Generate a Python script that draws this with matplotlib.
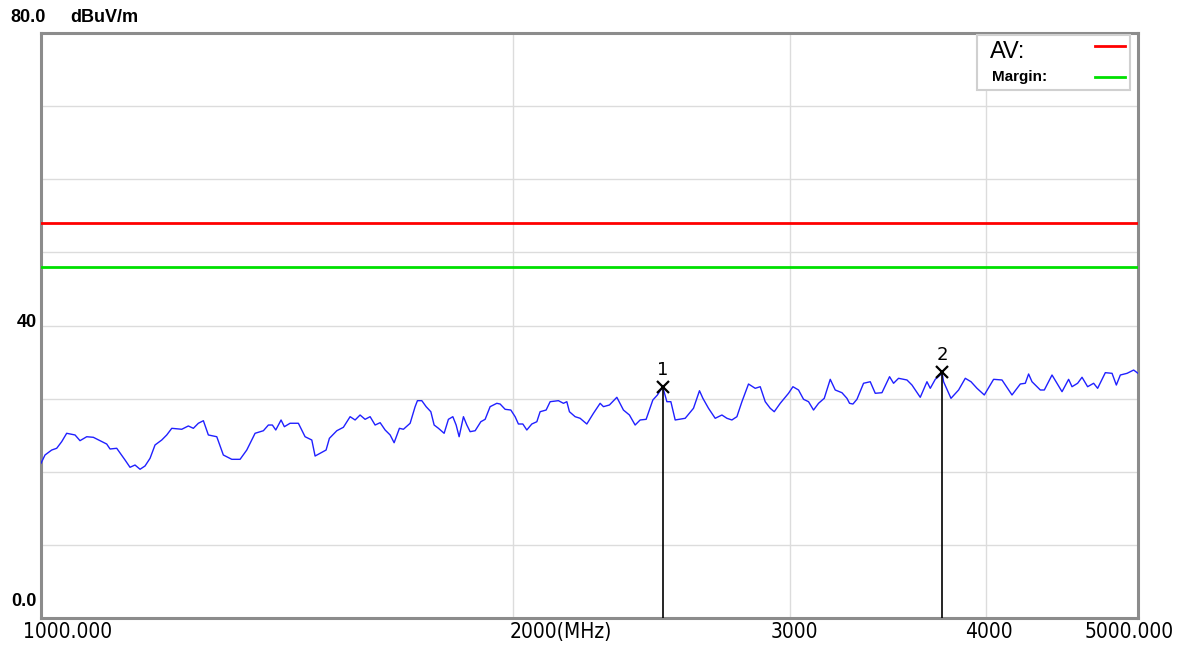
import matplotlib
matplotlib.use("Agg")
import matplotlib.pyplot as plt
from matplotlib.lines import Line2D
from matplotlib.patches import Rectangle
from matplotlib.transforms import blended_transform_factory

# measured trace (MHz, dBuV/m)
freq = [1000.0, 1005.9, 1015.8, 1023.3, 1030.8, 1038.4, 1051.2, 1058.9, 1069.4, 1079.8,
        1090.4, 1101.2, 1106.6, 1117.5, 1131.2, 1139.5, 1147.9, 1156.4, 1164.9, 1173.5,
        1182.1, 1193.8, 1202.6, 1211.5, 1229.4, 1241.3, 1250.5, 1259.7, 1269.0, 1278.3,
        1294.2, 1306.7, 1323.0, 1339.2, 1352.4, 1369.0, 1385.8, 1396.0, 1404.2, 1411.2,
        1422.2, 1429.1, 1441.1, 1458.8, 1473.2, 1487.8, 1495.0, 1506.0, 1519.3, 1526.7,
        1543.4, 1558.4, 1573.8, 1585.4, 1597.0, 1608.8, 1620.7, 1632.6, 1644.7, 1656.8,
        1669.0, 1678.8, 1691.9, 1701.9, 1718.7, 1731.3, 1737.2, 1748.4, 1759.5, 1771.7,
        1780.3, 1791.6, 1806.6, 1818.0, 1829.8, 1838.7, 1846.8, 1858.5, 1867.8, 1876.8,
        1890.7, 1906.5, 1918.6, 1932.7, 1951.8, 1961.3, 1975.7, 1992.3, 2004.9, 2014.6,
        2027.7, 2039.6, 2054.6, 2069.8, 2079.8, 2098.2, 2110.6, 2136.4, 2152.2, 2162.9,
        2171.2, 2189.4, 2205.5, 2227.3, 2249.0, 2271.2, 2282.3, 2302.4, 2327.6, 2350.2,
        2371.0, 2390.9, 2408.5, 2429.8, 2453.8, 2470.4, 2480.2, 2490.2, 2504.9, 2519.6,
        2535.6, 2573.1, 2604.6, 2627.6, 2640.8, 2662.6, 2688.9, 2715.5, 2735.5, 2755.6,
        2775.9, 2796.4, 2823.6, 2851.5, 2872.5, 2893.7, 2915.0, 2932.2, 2958.1, 2994.3,
        3013.7, 3038.6, 3061.0, 3083.5, 3106.2, 3129.1, 3155.4, 3183.3, 3206.7, 3238.4,
        3262.3, 3274.7, 3291.1, 3310.5, 3342.7, 3375.7, 3400.6, 3434.2, 3472.7, 3493.2,
        3518.9, 3562.5, 3588.8, 3632.7, 3668.6, 3686.5, 3713.6, 3741.0, 3750.3, 3759.2,
        3800.2, 3842.9, 3880.8, 3913.5, 3948.1, 3990.6, 4045.4, 4095.6, 4156.1, 4207.1,
        4238.0, 4258.6, 4279.9, 4332.4, 4357.9, 4407.4, 4472.6, 4516.1, 4538.7, 4576.2,
        4605.8, 4643.8, 4684.9, 4712.5, 4766.0, 4813.2, 4843.6, 4872.1, 4920.3, 4968.2,
        5000.0]
level = [21.16, 22.29, 22.97, 23.21, 24.11, 25.26, 25.03, 24.25, 24.79, 24.71,
         24.25, 23.79, 23.11, 23.21, 21.61, 20.61, 20.92, 20.34, 20.79, 21.84,
         23.66, 24.34, 25.03, 25.94, 25.81, 26.26, 25.94, 26.63, 26.98, 25.03,
         24.79, 22.29, 21.70, 21.70, 22.97, 25.26, 25.61, 26.39, 26.39, 25.71,
         27.08, 26.16, 26.63, 26.63, 24.79, 24.34, 22.15, 22.52, 22.97, 24.57,
         25.61, 26.08, 27.53, 27.08, 27.76, 27.17, 27.53, 26.39, 26.71, 25.71,
         25.03, 23.97, 25.94, 25.81, 26.63, 28.90, 29.72, 29.72, 28.90, 28.21,
         26.39, 25.94, 25.26, 27.17, 27.53, 26.39, 24.79, 27.53, 26.39, 25.48,
         25.61, 26.84, 27.17, 28.90, 29.36, 29.26, 28.54, 28.44, 27.53, 26.53,
         26.53, 25.71, 26.53, 26.84, 28.21, 28.44, 29.58, 29.72, 29.36, 29.58,
         28.21, 27.53, 27.31, 26.53, 27.99, 29.36, 28.90, 29.13, 30.18, 28.44,
         27.76, 26.39, 27.08, 27.17, 29.81, 30.50, 31.08, 31.55, 29.58, 29.58,
         27.08, 27.31, 28.68, 31.08, 30.04, 28.68, 27.31, 27.76, 27.31, 27.08,
         27.53, 29.58, 32.00, 31.41, 31.63, 29.58, 28.68, 28.21, 29.36, 30.73,
         31.63, 31.18, 29.91, 29.58, 28.44, 29.36, 30.04, 32.64, 31.18, 30.81,
         30.04, 29.36, 29.26, 29.91, 32.10, 32.31, 30.73, 30.81, 33.00, 32.10,
         32.78, 32.55, 31.86, 30.18, 32.31, 31.41, 32.64, 33.23, 33.68, 32.31,
         30.04, 31.18, 32.78, 32.31, 31.41, 30.50, 32.64, 32.55, 30.50, 32.00,
         32.10, 33.37, 32.31, 31.18, 31.18, 33.23, 30.95, 32.64, 31.63, 32.10,
         32.92, 31.63, 32.10, 31.41, 33.55, 33.46, 31.86, 33.23, 33.46, 33.91,
         33.46]

av_limit = 54.0
margin_limit = 48.0

marker_id = ["1", "2"]
marker_freq = [2490.2, 3750.3]
marker_level = [31.55, 33.68]

x_ticks = [1000, 2000, 3000, 4000, 5000]
x_tick_labels = ["1000.000", "2000(MHz)", "3000", "4000", "5000.000"]

W, H = 1177, 645
fig = plt.figure(figsize=(W / 100, H / 100), dpi=100)
ax = fig.add_axes([41 / W, 27 / H, 1097 / W, 585 / H])

ax.set_xscale("log")
ax.set_xlim(1000, 5000)
ax.set_ylim(0, 80)
ax.set_yticks(range(0, 81, 10))
ax.set_xticks([2000, 3000, 4000])
ax.xaxis.set_minor_locator(plt.NullLocator())
ax.grid(True, color="#dcdcdc", linewidth=1.0)
ax.tick_params(length=0, labelbottom=False, labelleft=False)
for s in ax.spines.values():
    s.set_color("#8c8c8c")
    s.set_linewidth(2.2)

ax.axhline(av_limit, color="#ff0000", linewidth=2.0, zorder=3)
ax.axhline(margin_limit, color="#00e000", linewidth=2.0, zorder=3)
ax.plot(freq, level, color="#2020ff", linewidth=1.0, zorder=4)

for mid, mf, ml in zip(marker_id, marker_freq, marker_level):
    ax.plot([mf, mf], [0, ml], color="black", linewidth=1.2, zorder=5)
    ax.plot(mf, ml, marker="x", color="black", markersize=8, mew=1.6, zorder=6)
    ax.text(mf, ml + 1.1, mid, ha="center", va="bottom", fontsize=13,
            color="black", zorder=6)

# axis texts
ybt = blended_transform_factory(fig.transFigure, ax.transData)
bold = dict(fontsize=13, fontweight="bold", family=["Liberation Sans", "DejaVu Sans"])
fig.text(10 / W, 1 - 17 / H, "80.0", va="center", ha="left", **bold)
fig.text(70 / W, 1 - 17 / H, "dBuV/m", va="center", ha="left", **bold)
ax.text(37 / W, 40.4, "40", transform=ybt, ha="right", va="center", **bold)
ax.text(37 / W, 2.2, "0.0", transform=ybt, ha="right", va="center", **bold)

xbt = blended_transform_factory(ax.transData, fig.transFigure)
narrow = dict(fontsize=15, family="DejaVu Sans", fontstretch="condensed",
              va="center", color="black")
offsets = {"1000.000": ("center", 1.039), "2000(MHz)": ("left", 0.995),
           "3000": ("center", 1.006), "4000": ("center", 1.004),
           "5000.000": ("center", 0.987)}
for xt, lab in zip(x_ticks, x_tick_labels):
    ha, f = offsets[lab]
    ax.text(xt * f, 1 - 632 / H, lab, transform=xbt, ha=ha, **narrow)

# legend box
fig.add_artist(Rectangle((977 / W, 1 - 90 / H), 153 / W, 55 / H,
                         transform=fig.transFigure, facecolor="white",
                         edgecolor="#d0d0d0", linewidth=1.5, zorder=10))
fig.text(990 / W, 1 - 52 / H, "AV:", fontsize=17, va="center", ha="left",
         family=["Liberation Sans", "DejaVu Sans"], zorder=11)
fig.text(992 / W, 1 - 77 / H, "Margin:", fontsize=11, fontweight="bold",
         va="center", ha="left", family=["Liberation Sans", "DejaVu Sans"], zorder=11)
fig.add_artist(Line2D([1095 / W, 1125 / W], [1 - 46 / H, 1 - 46 / H],
                      transform=fig.transFigure, color="#ff0000", linewidth=2, zorder=11))
fig.add_artist(Line2D([1095 / W, 1125 / W], [1 - 77 / H, 1 - 77 / H],
                      transform=fig.transFigure, color="#00e000", linewidth=2, zorder=11))

fig.savefig("out.png", dpi=100)
